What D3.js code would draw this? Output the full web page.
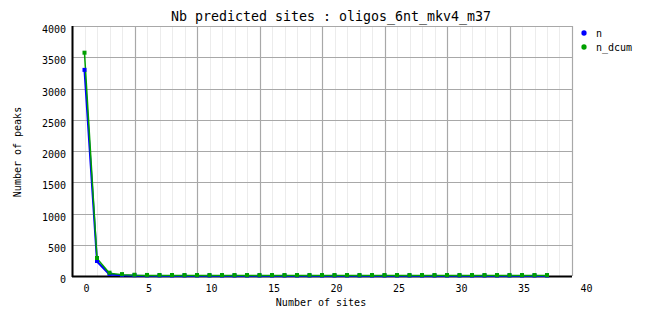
<!DOCTYPE html>
<html><head><meta charset="utf-8">
<script src="https://cdn.jsdelivr.net/npm/d3@7"></script>
<style>body{margin:0;background:#fff}svg{display:block}text{font-family:"DejaVu Sans Mono",monospace}</style>
</head><body>
<div id="chart"></div>
<script>
const title = "Nb predicted sites : oligos_6nt_mkv4_m37";
const xLabel = "Number of sites";
const yLabel = "Number of peaks";
const seriesNames = ["n", "n_dcum"];
const seriesColors = ["#0000ff", "#00a000"];
const xValues = d3.range(0, 38);
const nValues = [3290, 232, 25, 10, 4, 2, 1, 1, 1, 1, 0, 0, 0, 0, 0, 0, 0, 0, 0, 0,
  0, 0, 0, 0, 0, 0, 0, 0, 0, 0, 0, 0, 0, 0, 0, 0, 0, 0];
const nDcumValues = [3565, 280, 45, 22, 12, 9, 8, 8, 7, 7, 7, 7, 7, 7, 7, 7, 7, 7, 7, 7,
  7, 7, 7, 7, 7, 7, 7, 7, 7, 7, 7, 7, 7, 7, 7, 7, 7, 7];
const xTickLabels = [0, 5, 10, 15, 20, 25, 30, 35, 40];
const yTickLabels = [0, 500, 1000, 1500, 2000, 2500, 3000, 3500, 4000];

const W = 662, H = 328;
const svg = d3.select("#chart").append("svg").attr("width", W).attr("height", H);
const x = d3.scaleLinear().domain([-1, 39]).range([72, 572]);
const y = d3.scaleLinear().domain([0, 4000]).range([276, 26]);
const px = v => Math.round(v) + 0.5;

// minor vertical grid
svg.append("g").selectAll("line").data(d3.range(-1, 40)).join("line")
  .attr("x1", d => px(x(d))).attr("x2", d => px(x(d)))
  .attr("y1", y(4000)).attr("y2", y(0))
  .attr("stroke", "#ececec").attr("stroke-width", 1);
// major vertical grid
svg.append("g").selectAll("line").data(xTickLabels.map(v => v - 1)).join("line")
  .attr("x1", d => px(x(d))).attr("x2", d => px(x(d)))
  .attr("y1", y(4000)).attr("y2", y(0))
  .attr("stroke", "#a8a8a8").attr("stroke-width", 1.2);
// horizontal grid
svg.append("g").selectAll("line").data(yTickLabels).join("line")
  .attr("x1", x(-1)).attr("x2", x(39))
  .attr("y1", d => px(y(d))).attr("y2", d => px(y(d)))
  .attr("stroke", "#a8a8a8").attr("stroke-width", 1.2);

// axes lines
svg.append("line").attr("x1", x(-1) + 0.5).attr("x2", x(-1) + 0.5).attr("y1", y(4000)).attr("y2", y(0) + 1)
  .attr("stroke", "#000").attr("stroke-width", 2);
svg.append("line").attr("x1", x(-1)).attr("x2", x(39)).attr("y1", y(0) + 0.5).attr("y2", y(0) + 0.5)
  .attr("stroke", "#000").attr("stroke-width", 2);

// tick labels
svg.append("g").selectAll("text").data(yTickLabels).join("text")
  .attr("x", 66).attr("y", d => y(d) + 7)
  .attr("text-anchor", "end").attr("font-size", "10px").text(d => d);
svg.append("g").selectAll("text").data(xTickLabels).join("text")
  .attr("x", d => x(d) + 2).attr("y", 292)
  .attr("text-anchor", "middle").attr("font-size", "10px").text(d => d);

// titles
svg.append("text").attr("x", 331).attr("y", 21).attr("text-anchor", "middle")
  .attr("font-size", "13.3px").text(title);
svg.append("text").attr("x", 321).attr("y", 306).attr("text-anchor", "middle")
  .attr("font-size", "10px").text(xLabel);
svg.append("text").attr("transform", "translate(21,152) rotate(-90)").attr("text-anchor", "middle")
  .attr("font-size", "10px").text(yLabel);

// series
const series = [nValues, nDcumValues];
const line = d3.line().x((d, i) => x(xValues[i])).y(d => y(d));
series.forEach((vals, k) => {
  svg.append("path").datum(vals).attr("d", line).attr("fill", "none")
    .attr("stroke", seriesColors[k]).attr("stroke-width", k === 0 ? 2 : 1.5);
});
series.forEach((vals, k) => {
  svg.append("g").selectAll("rect").data(vals).join("rect")
    .attr("x", (d, i) => x(xValues[i]) - 2).attr("y", d => y(d) - 2.5)
    .attr("width", 4).attr("height", 4).attr("fill", seriesColors[k]);
});

// legend
seriesNames.forEach((name, k) => {
  const ly = 33 + k * 14;
  const g = svg.append("g");
  g.append("path").attr("d", d3.symbol().type(d3.symbolCircle).size(22)())
    .attr("transform", `translate(584,${ly})`).attr("fill", seriesColors[k]);
  g.append("text").attr("x", 596).attr("y", ly + 4).attr("font-size", "10px").text(name);
});
</script>
</body></html>
